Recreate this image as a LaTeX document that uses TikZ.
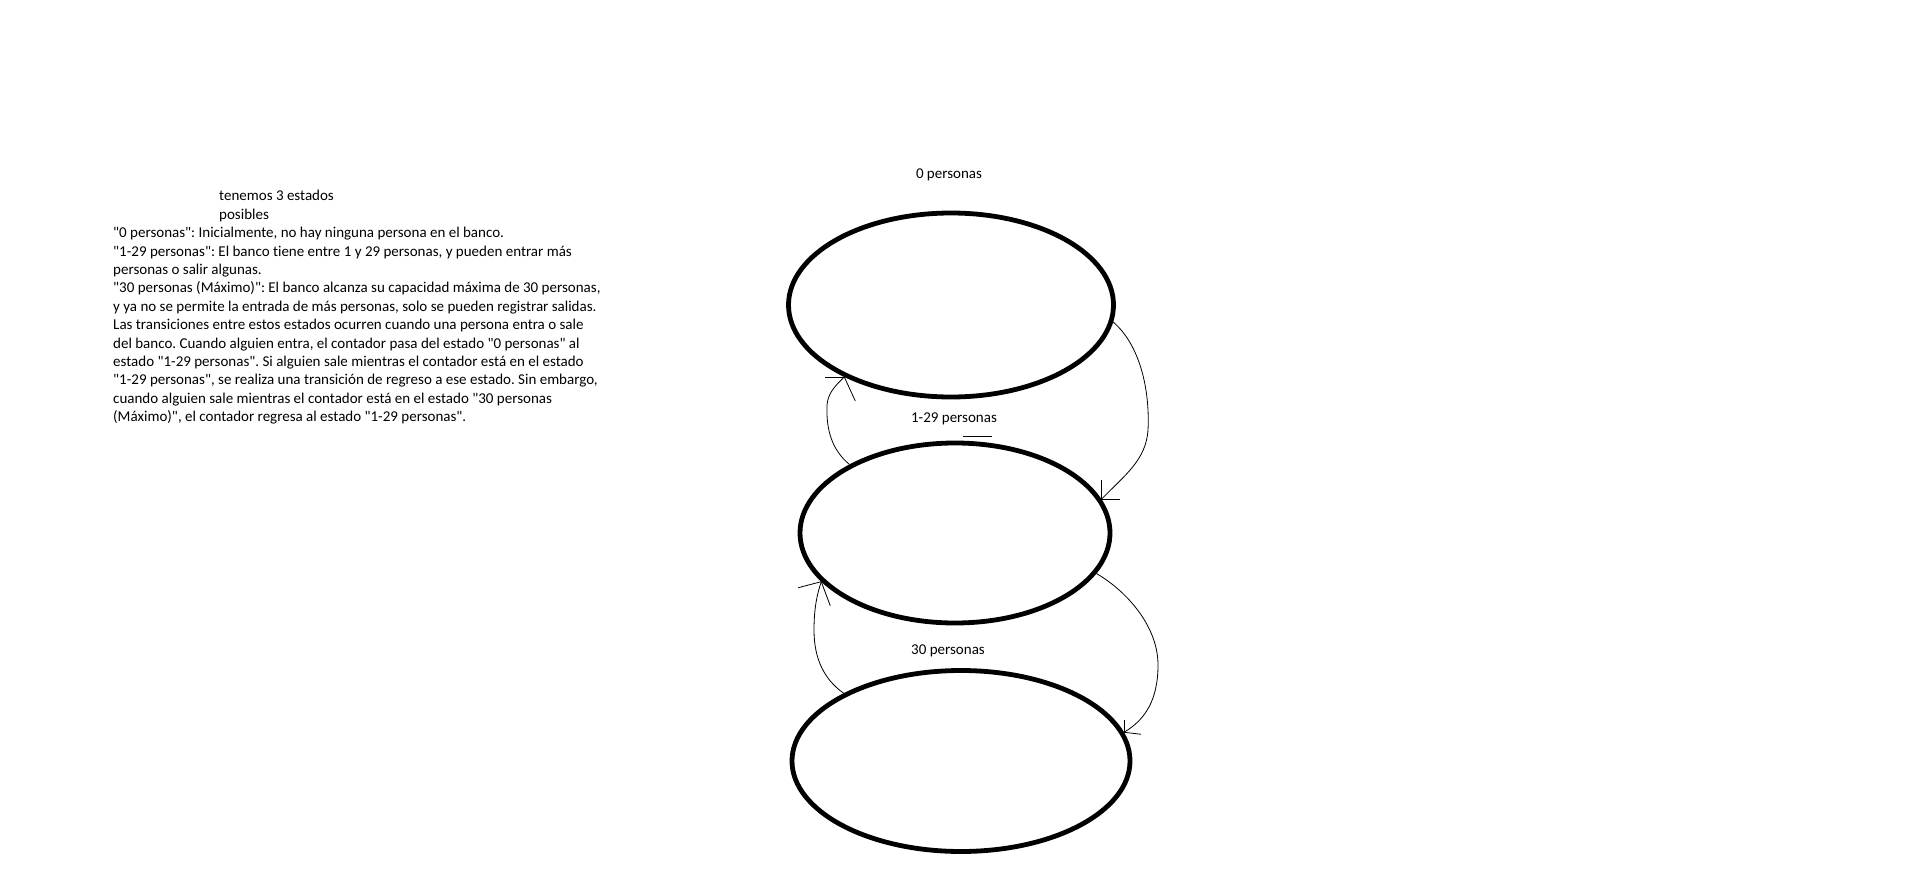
\documentclass[tikz,border=0pt]{standalone}
\usepackage{fontspec}
\setmainfont{Carlito}[Ligatures={TeXOff,NoCommon}]
\usetikzlibrary{shapes.geometric}
\frenchspacing
\begin{document}
\begin{tikzpicture}[x=1pt,y=-1pt,
  stateell/.style={ellipse, draw, line width=4.8pt, inner sep=0pt},
  txt/.style={font=\fontsize{15}{18.4}\selectfont, inner sep=0pt, align=left},
  lbl/.style={font=\fontsize{15}{18.4}\selectfont, inner sep=0pt, anchor=base},
  conn/.style={line width=0.8pt},
  tipline/.style={line width=0.8pt}
]
\fill[white] (0,0) rectangle (1911,869);
\useasboundingbox (0,0) rectangle (1911,869);

% text block
\node[txt, anchor=north west] (intro) at (219,190) {tenemos 3 estados\\posibles};
\node[txt, anchor=north west] (body) at (113,227) {%
"0 personas": Inicialmente, no hay ninguna persona en el banco.\\
"1-29 personas": El banco tiene entre 1 y 29 personas, y pueden entrar más\\
personas o salir algunas.\\
"30 personas (Máximo)": El banco alcanza su capacidad máxima de 30 personas,\\
y ya no se permite la entrada de más personas, solo se pueden registrar salidas.\\
Las transiciones entre estos estados ocurren cuando una persona entra o sale\\
del banco. Cuando alguien entra, el contador pasa del estado "0 personas" al\\
estado "1-29 personas". Si alguien sale mientras el contador está en el estado\\
"1-29 personas", se realiza una transición de regreso a ese estado. Sin embargo,\\
cuando alguien sale mientras el contador está en el estado "30 personas\\
(Máximo)", el contador regresa al estado "1-29 personas".};

% states
\node[stateell, minimum width=325pt, minimum height=184pt] (e1) at (951,305) {};
\node[stateell, minimum width=310pt, minimum height=180pt] (e2) at (955,533) {};
\node[stateell, minimum width=338pt, minimum height=181pt] (e3) at (961,761) {};

% labels
\node[lbl] (l1) at (949,179) {0 personas};
\node[lbl] (l2) at (954,422) {1-29 personas};
\node[lbl] (l3) at (948,654) {30 personas};
\coordinate (barL) at (963,436);
\coordinate (barR) at (992,436);
\draw[conn] (barL) -- (barR);

% tips
\coordinate (tA) at (e2.13.8);
\coordinate (tB) at (e1.214.6);
\coordinate (tC) at (e3.10.8);
\coordinate (tD) at (e2.200.8);

% A: 0 -> 1-29 (right)
\draw[conn] (e1.-6.6) .. controls (1140,345) and (1150,390) .. (1148,430)
  .. controls (1146,460) and (1125,475) .. (tA);
\draw[tipline] (tA) -- ++(0,-19);
\draw[tipline] (tA) -- ++(19,0);

% B: 1-29 -> 0 (left)
\draw[conn] (e2.147.5) .. controls (832,450) and (826,430) .. (827,405)
  .. controls (828,393) and (835,386) .. (tB);
\draw[tipline] (tB) -- ++(-19,0);
\draw[tipline] (tB) -- ++(11,24);

% C: 1-29 -> 30 (right)
\draw[conn] (e2.-16.9) .. controls (1125,590) and (1158,625) .. (1158,665)
  .. controls (1158,700) and (1145,720) .. (tC);
\draw[tipline] (tC) -- ++(0,-12);
\draw[tipline] (tC) -- ++(17,2);

% D: 30 -> 1-29 (left)
\draw[conn] (e3.150) .. controls (825,680) and (814,660) .. (814,630)
  .. controls (814,605) and (818,592) .. (tD);
\draw[tipline] (tD) -- ++(-23,6);
\draw[tipline] (tD) -- ++(9,24);
\end{tikzpicture}
\end{document}
